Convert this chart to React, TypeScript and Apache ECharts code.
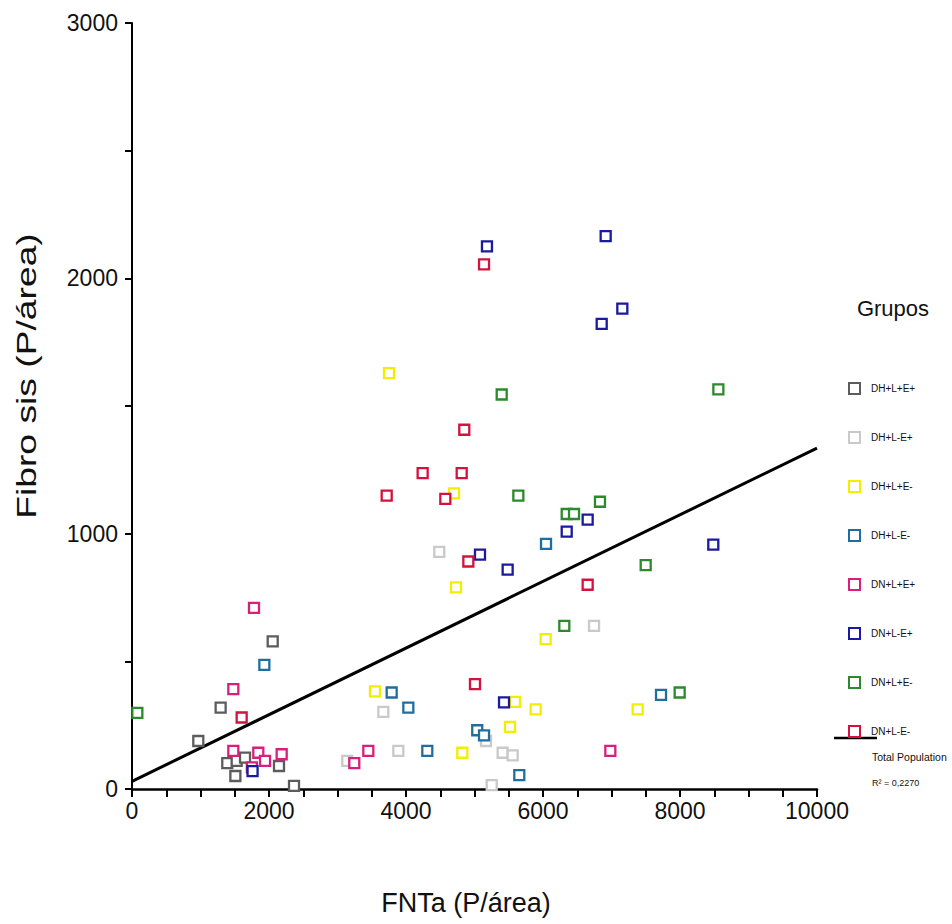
import React, { useEffect, useRef } from "react";
import * as echarts from "echarts";

const groupNames = ["DH+L+E+", "DH+L-E+", "DH+L+E-", "DH+L-E-", "DN+L+E+", "DN+L-E+", "DN+L+E-", "DN+L-E-"];
const groupColors = ["#5c5c5c", "#c9c9c9", "#f2ee00", "#1f6f9e", "#d81f7c", "#1a1aa0", "#2b8a2b", "#d3123e"];

const dhLpEp = [[968, 188], [1294, 319], [2054, 578], [1391, 101], [1528, 110], [1650, 123], [1509, 51], [2146, 90], [2365, 12]];
const dhLmEp = [[3143, 110], [3669, 302], [3888, 149], [4486, 929], [5168, 188], [5411, 142], [5557, 132], [5251, 15], [6745, 639]];
const dhLpEm = [[3547, 382], [4822, 142], [4730, 790], [5591, 341], [5893, 312], [5518, 243], [6039, 587], [7382, 312], [3752, 1629], [4701, 1158]];
const dhLmEm = [[1932, 486], [3791, 378], [4034, 319], [4311, 149], [5040, 230], [5139, 210], [5654, 54], [7723, 369], [6044, 960]];
const dnLpEp = [[1781, 709], [1479, 391], [1479, 149], [1844, 142], [1942, 110], [1750, 85], [2185, 136], [3245, 101], [3450, 149], [6983, 149]];
const dnLmEp = [[1760, 70], [5431, 339], [5080, 918], [5484, 859], [6915, 2165], [7158, 1881], [6857, 1822], [6652, 1055], [6346, 1008], [8486, 957], [5182, 2125]];
const dnLpEm = [[78, 298], [6311, 639], [7995, 378], [5397, 1545], [8560, 1565], [5640, 1149], [6832, 1125], [6346, 1077], [6453, 1077], [7499, 877]];
const dnLmEm = [[1601, 280], [5007, 411], [6652, 800], [4851, 1407], [4243, 1237], [4813, 1237], [3718, 1149], [4574, 1136], [4910, 891], [5139, 2055]];

const groupData = [dhLpEp, dhLmEp, dhLpEm, dhLmEm, dnLpEp, dnLmEp, dnLpEm, dnLmEm];

const fitLine = [[0, 30], [10000, 1335]];
const fitName = "Total Population";
const r2Text = "R² = 0,2270";

const xTitle = "FNTa (P/área)";
const yTitle = "Fibro sis (P/área)";
const legendTitle = "Grupos";

const FONT = "'Liberation Sans', Arial, sans-serif";

export default function App() {
  const ref = useRef<HTMLDivElement>(null);
  useEffect(() => {
    if (!ref.current) return;
    const chart = echarts.init(ref.current, undefined, { renderer: "svg" });
    const scatterSeries = groupNames.map((name, i) => ({
      name,
      type: "scatter",
      data: groupData[i],
      symbol: "rect",
      symbolSize: 10,
      itemStyle: { color: "#ffffff", borderColor: groupColors[i], borderWidth: 2.3, opacity: 1 },
      z: 3,
    }));
    chart.setOption({
      animation: false,
      backgroundColor: "#ffffff",
      grid: { left: 132, right: 135, top: 23, bottom: 135, containLabel: false },
      xAxis: {
        type: "value",
        min: 0,
        max: 10000,
        interval: 500,
        splitLine: { show: false },
        axisLine: { show: true, onZero: false, lineStyle: { color: "#000", width: 2.5 } },
        axisTick: { show: true, length: 8, lineStyle: { color: "#000", width: 2 } },
        axisLabel: {
          margin: 10,
          fontSize: 23,
          fontFamily: FONT,
          color: "#111",
          formatter: (v: number) => (v % 2000 === 0 ? String(v) : ""),
        },
      },
      yAxis: {
        type: "value",
        min: 0,
        max: 3000,
        interval: 500,
        splitLine: { show: false },
        axisLine: { show: true, lineStyle: { color: "#000", width: 2 } },
        axisTick: { show: true, length: 7, lineStyle: { color: "#000", width: 2 } },
        axisLabel: {
          margin: 14,
          fontSize: 23,
          fontFamily: FONT,
          color: "#111",
          formatter: (v: number) => (v % 1000 === 0 ? String(v) : ""),
        },
      },
      legend: {
        orient: "vertical",
        left: 843,
        top: 377,
        itemWidth: 11,
        itemHeight: 11,
        itemGap: 36,
        icon: "rect",
        textStyle: { fontSize: 10, fontFamily: FONT, color: "#111", padding: [0, 0, 0, 6] },
        data: groupNames.map((name, i) => ({
          name,
          itemStyle: { color: "#ffffff", borderColor: groupColors[i], borderWidth: 2 },
        })),
      },
      graphic: [
        {
          type: "text",
          x: 893,
          y: 308,
          style: { text: legendTitle, fontSize: 22, fontFamily: FONT, fill: "#111", align: "center", verticalAlign: "middle" },
        },
        { type: "line", shape: { x1: 834, y1: 738, x2: 877, y2: 738 }, style: { stroke: "#000", lineWidth: 2.5 } },
        {
          type: "text",
          x: 872,
          y: 757,
          style: { text: fitName, fontSize: 10.5, fontFamily: FONT, fill: "#111", align: "left", verticalAlign: "middle" },
        },
        {
          type: "text",
          x: 872,
          y: 783,
          style: { text: r2Text, fontSize: 9, fontFamily: FONT, fill: "#111", align: "left", verticalAlign: "middle" },
        },
        {
          type: "text",
          x: 466,
          y: 903,
          style: { text: xTitle, fontSize: 27, fontFamily: FONT, fill: "#111", align: "center", verticalAlign: "middle" },
        },
        {
          type: "text",
          x: 26,
          y: 376,
          rotation: Math.PI / 2,
          scaleX: 1.33,
          style: { text: yTitle, fontSize: 28, fontFamily: FONT, fill: "#111", align: "center", verticalAlign: "middle" },
        },
      ],
      series: [
        ...scatterSeries,
        {
          name: fitName,
          type: "line",
          data: fitLine,
          symbol: "none",
          lineStyle: { color: "#000", width: 3 },
          z: 2,
        },
      ],
    });
    return () => chart.dispose();
  }, []);
  return <div ref={ref} style={{ width: 952, height: 924, position: "absolute", left: 0, top: 0 }} />;
}
